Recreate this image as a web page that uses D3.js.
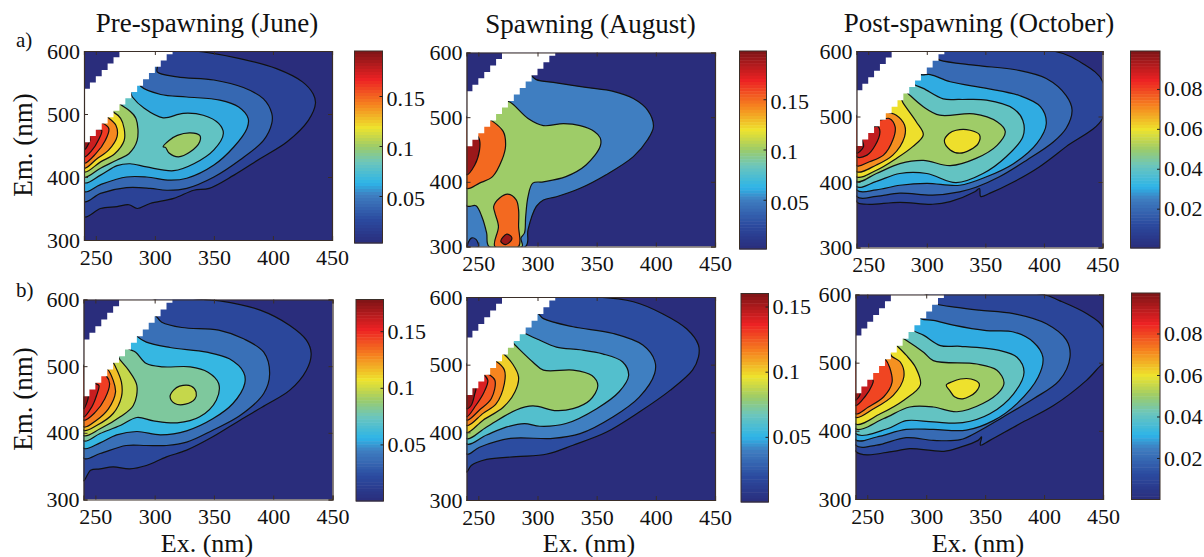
<!DOCTYPE html>
<html>
<head>
<meta charset="utf-8">
<script src="https://cdnjs.cloudflare.com/ajax/libs/d3/7.8.5/d3.min.js"></script>
<style>
body { margin: 0; background: #fff; }
text { font-family: "Liberation Serif", serif; fill: #111; }
</style>
</head>
<body>
<svg id="chart" width="1204" height="557"></svg>
<script>
// Axis ticks (shared by all panels)
const exTicks = [250, 300, 350, 400, 450];
const emTicks = [300, 400, 500, 600];
const exRange = [240, 450];
const emRange = [300, 600];

// Scatter band that was cut out of the EEMs, one step per 5 nm
const maskLowEx = [240,245,250,255,260,265,270,275,280,285,290,295,300,305,310,315];
const maskLowEm = [455,465,475,485,495,505,515,525,535,545,555,565,575,585,595,600];
const maskUpEx = [240,245,250,255,260,265,270];
const maskUpEm = [540,550,560,570,580,590,600];

// Contour outlines [ex, em], outermost first. Outlines starting on ex=240
// end inside the cut-out band and get closed through it.
const juneALevels = [.02,.04,.06,.08,.1,.1,.12,.14,.16,.175,.19];
const juneAContours = [
  [[240,337],[254,350],[268,353],[278,356],[285,350],[296,358],[316,366],[333,379],[346,382],[367,403],[389,429],[412,456],[430,490],[436,517],[434,532],[425,551],[403,572],[372,588],[333,600],[300,600]],
  [[240,361],[254,374],[276,383],[296,382],[310,379],[327,382],[350,400],[372,427],[392,458],[399,485],[399,501],[392,524],[375,542],[350,554],[319,559],[302,567],[302,577],[298,580]],
  [[240,377],[254,388],[276,400],[293,400],[313,395],[327,398],[350,419],[367,448],[378,477],[379,493],[371,511],[355,522],[327,527],[305,531],[288,544],[285,556]],
  [[240,391],[254,403],[268,418],[279,421],[293,416],[316,410],[333,421],[350,443],[358,469],[354,485],[341,498],[324,501],[307,494],[291,509],[281,527],[278,538]],
  [[240,400],[254,414],[268,427],[278,437],[285,458],[284,493],[278,506],[271,515],[268,520]],
  [[307,448],[312,458],[319,466],[330,470],[338,466],[338,456],[330,440],[320,432],[312,438],[309,447]],
  [[240,408],[254,424],[266,437],[274,458],[274,477],[271,493],[265,503],[262,505]],
  [[240,414],[251,429],[261,443],[268,464],[267,482],[260,495],[258,498]],
  [[240,422],[250,437],[258,458],[261,477],[255,486],[252,487]],
  [[240,432],[247,443],[252,458],[255,474],[249,478]],
  [[240,443],[245,458],[244,468]]
];

const augustALevels = [.05,.02,.1,.15,.19,.15,.19];
const augustAContours = [
  [[240,300],[290,300],[292,326],[299,362],[305,372],[316,377],[336,390],[358,411],[381,439],[393,465],[398,486],[393,511],[381,529],[364,540],[341,546],[316,553],[299,558],[295,564],[292,570]],
  [[241,300],[244,313],[248,311],[250,300]],
  [[240,363],[248,363],[253,346],[257,321],[259,300],[287,300],[286,313],[289,321],[290,346],[292,377],[296,398],[305,400],[324,408],[341,426],[353,455],[353,468],[348,478],[336,487],[322,490],[305,487],[292,498],[277,523],[272,525]],
  [[240,390],[251,398],[262,408],[270,434],[273,455],[271,478],[261,495],[258,498]],
  [[240,411],[247,426],[251,449],[251,465],[248,475]],
  [[263,362],[268,375],[275,381],[282,372],[284,357],[284,331],[284,300],[264,300],[267,331],[264,352]],
  [[269,308],[274,319],[278,315],[278,310],[273,303]]
];

const octoberALevels = [.01,.02,.03,.04,.05,.06,.06,.07,.08,.09,.095];
const octoberAContours = [
  [[240,370],[249,366],[277,369],[305,366],[320,370],[341,385],[345,390],[346,378],[354,383],[374,400],[396,423],[419,454],[450,497],[450,554],[433,581],[408,600],[300,600]],
  [[240,378],[257,378],[277,383],[305,380],[328,385],[342,392],[362,408],[385,433],[408,461],[419,482],[424,510],[419,532],[402,558],[377,571],[342,578],[311,586],[305,592]],
  [[240,388],[257,388],[277,395],[300,398],[328,395],[351,408],[374,428],[394,459],[402,489],[397,515],[379,532],[351,543],[320,553],[303,564],[295,564],[292,570]],
  [[240,393],[257,401],[277,413],[300,413],[325,399],[348,413],[368,439],[382,469],[382,494],[374,512],[351,525],[328,526],[314,527],[297,543],[290,548],[287,552]],
  [[240,401],[257,413],[277,428],[297,433],[320,425],[342,436],[360,456],[367,477],[360,492],[340,504],[311,502],[297,515],[284,535],[281,540]],
  [[240,408],[257,418],[274,436],[288,454],[297,472],[291,492],[280,520],[276,532]],
  [[315,463],[319,474],[325,479],[337,479],[345,472],[344,459],[337,449],[328,444],[320,449]],
  [[240,416],[257,426],[271,441],[281,469],[281,487],[274,502],[266,507],[263,510]],
  [[240,425],[251,431],[263,441],[271,464],[273,484],[268,497],[260,495],[258,498]],
  [[240,439],[249,441],[256,456],[260,477],[258,485],[250,483]],
  [[240,444],[246,454],[244,468]]
];

const juneBLevels = [.019,.038,.058,.08,.098,.098,.115,.13,.145,.16,.175];
const juneBContours = [
  [[240,328],[246,344],[254,346],[265,349],[279,346],[293,351],[310,364],[327,374],[349,394],[372,419],[394,442],[414,464],[428,494],[432,519],[428,539],[414,561],[389,584],[355,598],[341,600],[300,600]],
  [[240,362],[254,369],[276,381],[293,381],[310,381],[327,386],[349,404],[372,426],[392,459],[397,489],[392,521],[375,541],[354,554],[323,558],[306,566],[298,578]],
  [[240,377],[254,385],[268,397],[285,402],[305,397],[327,403],[349,421],[366,444],[376,474],[375,491],[363,511],[344,521],[313,528],[293,536],[285,545],[282,552]],
  [[240,388],[254,399],[271,411],[285,423],[299,418],[319,415],[338,424],[352,449],[354,474],[345,491],[330,499],[307,499],[293,504],[284,521],[278,526],[276,532]],
  [[240,396],[254,406],[271,424],[282,441],[285,471],[278,494],[271,509],[268,516]],
  [[313,454],[316,464],[321,470],[331,470],[335,461],[334,451],[326,443],[317,444]],
  [[240,404],[251,411],[265,429],[272,454],[272,476],[267,499],[265,505],[262,507]],
  [[240,409],[251,419],[261,436],[267,461],[265,479],[260,496],[257,498]],
  [[240,419],[250,431],[258,451],[262,474],[259,486],[255,490]],
  [[240,424],[247,439],[251,456],[253,471],[250,474],[248,477]],
  [[240,436],[243,446],[244,456],[242,462]]
];

const augustBLevels = [.02,.04,.06,.08,.1,.115,.125,.14,.155];
const augustBContours = [
  [[240,341],[244,351],[257,360],[282,364],[308,368],[330,381],[358,400],[386,430],[412,462],[431,492],[436,511],[436,529],[426,553],[406,575],[381,593],[350,600],[300,600]],
  [[240,368],[251,378],[277,391],[313,391],[336,398],[364,423],[386,452],[399,487],[399,506],[389,529],[364,546],[330,556],[305,568],[298,578]],
  [[240,383],[257,396],[274,408],[289,413],[302,409],[324,413],[350,435],[369,460],[377,484],[372,504],[355,516],[336,522],[316,526],[302,536],[288,548],[285,553]],
  [[240,391],[257,408],[282,433],[296,439],[316,432],[330,435],[344,447],[351,469],[346,484],[330,492],[305,492],[296,504],[281,529],[278,534]],
  [[240,400],[254,418],[271,437],[281,460],[284,482],[279,501],[272,515],[268,520]],
  [[240,410],[254,428],[265,442],[272,472],[272,492],[265,505],[262,507]],
  [[240,418],[251,433],[261,450],[264,477],[258,487],[255,492]],
  [[240,423],[248,440],[255,460],[258,477],[254,486],[250,488]],
  [[240,435],[244,440],[247,457],[248,465],[246,472]]
];

const octoberBLevels = [.01,.02,.03,.04,.05,.06,.06,.07,.08,.09,.095];
const octoberBContours = [
  [[240,370],[272,370],[286,374],[315,370],[329,376],[344,386],[347,391],[346,379],[354,386],[379,410],[408,437],[436,474],[449,497],[450,497],[450,552],[436,572],[413,591],[399,600],[300,600]],
  [[240,379],[258,379],[283,390],[306,386],[329,387],[343,398],[365,420],[391,447],[413,474],[422,508],[419,533],[402,557],[374,572],[345,577],[326,581],[309,586],[304,592]],
  [[240,387],[258,391],[283,402],[306,402],[334,401],[357,415],[377,440],[395,479],[399,508],[391,530],[374,545],[351,547],[323,555],[306,562],[296,564],[292,570]],
  [[240,396],[267,403],[283,415],[306,413],[331,412],[354,425],[374,454],[383,486],[377,508],[362,518],[329,524],[312,525],[298,540],[289,547],[286,552]],
  [[240,403],[264,418],[286,435],[306,435],[326,428],[348,440],[363,459],[366,471],[360,489],[343,498],[306,503],[298,515],[283,533],[279,537],[276,540]],
  [[317,467],[322,472],[329,476],[338,476],[345,469],[342,457],[331,447],[324,450],[320,459]],
  [[240,410],[261,425],[281,445],[295,467],[291,493],[283,511],[275,525],[272,530]],
  [[240,420],[255,432],[272,452],[281,479],[278,501],[271,509],[268,515]],
  [[240,425],[251,435],[264,450],[271,471],[269,493],[265,506],[262,510]],
  [[240,437],[248,450],[254,467],[255,474],[250,480]],
  [[240,445],[244,454],[243,462]]
];

// Colour bar value ranges and tick values
const barDomains = [[.003,.195],[.001,.198],[.0003,.099],[0,.178],[0,.16],[0,.0995]];
const barTicks = [[.05,.1,.15],[.05,.1,.15],[.02,.04,.06,.08],[.05,.1,.15],[.05,.1,.15],[.02,.04,.06,.08]];

// Titles and labels
const titles = ["Pre-spawning (June)", "Spawning (August)", "Post-spawning (October)"];
const rowLabels = ["a)", "b)"];

// Printed jet colour map
const jetStops = [0,.12,.25,.31,.42,.5,.6,.72,.85,1];
const jetColors = ["#2a2d7c","#2b4a9f","#3f7fc1","#2db4e8","#6dc6bb","#9ccb6a","#eee32d","#f6841f","#ed2224","#7c1416"];
const jet = d3.scaleLinear().domain(jetStops).range(jetColors);

// Pixel boxes of the plots and the colour bars
const panels = [
  {levels: juneALevels, contours: juneAContours, box: [84,51,332,240], bar: [354.5,51,382.5,243], barDy: "0.45em"},
  {levels: augustALevels, contours: augustAContours, box: [466.5,52.5,715,246.5], bar: [739.5,51,766.5,249], barDy: "0.42em"},
  {levels: octoberALevels, contours: octoberAContours, box: [856.5,51,1102.5,247.5], bar: [1130.5,51,1160,248], barDy: "0.32em"},
  {levels: juneBLevels, contours: juneBContours, box: [83.5,299.5,332.5,499.5], bar: [356,299.5,383.5,501], barDy: "0.32em"},
  {levels: augustBLevels, contours: augustBContours, box: [466.5,297,715,500], bar: [741,293.5,768.5,502], barDy: "0.32em"},
  {levels: octoberBLevels, contours: octoberBContours, box: [855.5,294.5,1103,499], bar: [1131.5,293,1160,499.5], barDy: "0.32em"}
];

const frameColor = "#3a2e28";
const svg = d3.select("#chart");

// Stair outline of the scatter band
function maskPoints() {
  const pts = [];
  maskLowEx.forEach((ex, i) => {
    pts.push([ex, maskLowEm[i]]);
    if (i < maskLowEx.length - 1) pts.push([maskLowEx[i + 1], maskLowEm[i]]);
  });
  for (let i = maskUpEx.length - 1; i >= 0; i--) {
    pts.push([maskUpEx[i], maskUpEm[i]]);
    if (i > 0) pts.push([maskUpEx[i], maskUpEm[i - 1]]);
  }
  return pts;
}

panels.forEach((p, idx) => {
  const [x0, y0, x1, y1] = p.box;
  const x = d3.scaleLinear().domain(exRange).range([x0, x1]);
  const y = d3.scaleLinear().domain(emRange).range([y1, y0]);
  const line = d3.line().x(d => x(d[0])).y(d => y(d[1]));
  const smooth = d3.line().x(d => x(d[0])).y(d => y(d[1])).curve(d3.curveCatmullRomClosed.alpha(0.5));
  const dom = barDomains[idx];
  const colorOf = v => jet((v - dom[0]) / (dom[1] - dom[0]));

  svg.append("clipPath").attr("id", "clip" + idx)
    .append("rect").attr("x", x0).attr("y", y0).attr("width", x1 - x0).attr("height", y1 - y0);

  const g = svg.append("g").attr("clip-path", `url(#clip${idx})`);
  g.append("rect").attr("x", x0).attr("y", y0).attr("width", x1 - x0).attr("height", y1 - y0)
    .attr("fill", jetColors[0]);

  g.selectAll("path.band").data(p.contours).join("path")
    .attr("class", "band")
    .attr("d", d => smooth(d[0][0] === 240 ? d.concat([[240, 500]]) : d))
    .attr("fill", (d, i) => colorOf(p.levels[i]))
    .attr("stroke", "#111")
    .attr("stroke-width", 1.2)
    .attr("stroke-linejoin", "round");

  g.append("path").attr("d", line(maskPoints()) + "Z").attr("fill", "#fff");

  // Axes
  const xAxis = d3.axisBottom(x).tickValues(exTicks).tickSize(-4).tickPadding(9);
  const yAxis = d3.axisLeft(y).tickValues(emTicks).tickSize(-4).tickPadding(4);
  const ax = svg.append("g").attr("transform", `translate(0,${y1})`).call(xAxis);
  const ay = svg.append("g").attr("transform", `translate(${x0},0)`).call(yAxis);
  const at = svg.append("g").attr("transform", `translate(0,${y0})`)
    .call(d3.axisTop(x).tickValues(exTicks).tickSize(-4).tickFormat(""));
  const ar = svg.append("g").attr("transform", `translate(${x1},0)`)
    .call(d3.axisRight(y).tickValues(emTicks).tickSize(-4).tickFormat(""));
  [ax, ay, at, ar].forEach(a => {
    a.attr("font-family", null);
    a.selectAll("path").attr("stroke", frameColor).attr("stroke-width", 1.2);
    a.selectAll("line").attr("stroke", frameColor);
    a.selectAll("text").attr("font-size", 22);
  });

  // Colour bar
  const [bx0, by0, bx1, by1] = p.bar;
  const vy = d3.scaleLinear().domain(dom).range([by1, by0]);
  const bar = svg.append("g");
  bar.selectAll("rect").data(d3.range(64)).join("rect")
    .attr("x", bx0).attr("width", bx1 - bx0)
    .attr("y", d => by0 + (by1 - by0) * d / 64)
    .attr("height", (by1 - by0) / 64 + 0.5)
    .attr("fill", d => jet(1 - (d + 0.5) / 64));
  bar.append("rect").attr("x", bx0).attr("y", by0)
    .attr("width", bx1 - bx0).attr("height", by1 - by0)
    .attr("fill", "none").attr("stroke", frameColor).attr("stroke-width", 1);
  const barAxis = svg.append("g").attr("transform", `translate(${bx1},0)`)
    .call(d3.axisRight(vy).tickValues(barTicks[idx]).tickSize(-3).tickPadding(4).tickFormat(String));
  barAxis.attr("font-family", null);
  barAxis.select("path").remove();
  barAxis.selectAll("line").attr("stroke", "#222");
  barAxis.selectAll("text").attr("font-size", 22).attr("dy", p.barDy);
});

// Titles above the top row, centred over each plot
const titleX = [207, 590.5, 979];
const titleY = [32, 33, 32];
svg.selectAll("text.title").data(titles).join("text")
  .attr("class", "title")
  .attr("x", (d, i) => titleX[i]).attr("y", (d, i) => titleY[i])
  .attr("text-anchor", "middle").attr("font-size", 27)
  .text(d => d);

// Row letters
const rowY = [47, 297];
svg.selectAll("text.row").data(rowLabels).join("text")
  .attr("class", "row")
  .attr("x", 16).attr("y", (d, i) => rowY[i])
  .attr("font-size", 21)
  .text(d => d);

// Axis titles
const emLabelY = [145, 399];
emLabelY.forEach(cy => {
  svg.append("text")
    .attr("transform", `translate(32,${cy}) rotate(-90)`)
    .attr("text-anchor", "middle").attr("font-size", 27)
    .text("Em. (nm)");
});
const exLabelX = [207, 589, 978];
exLabelX.forEach(cx => {
  svg.append("text")
    .attr("x", cx).attr("y", 552)
    .attr("text-anchor", "middle").attr("font-size", 26)
    .text("Ex. (nm)");
});
</script>
</body>
</html>
